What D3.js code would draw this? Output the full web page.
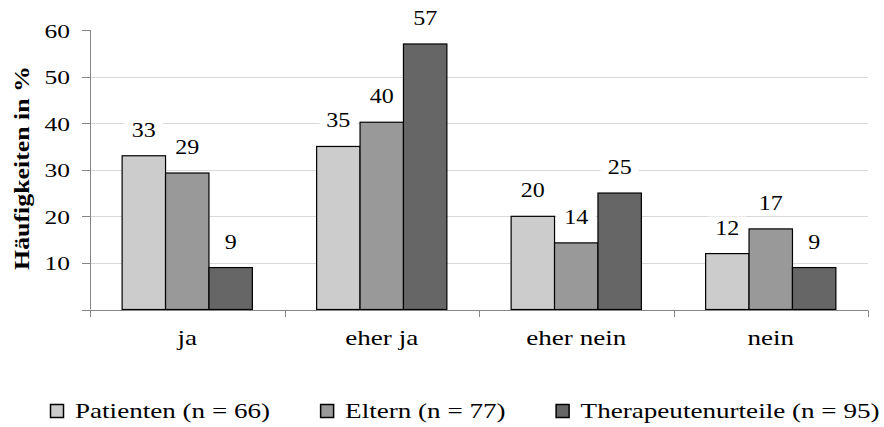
<!DOCTYPE html>
<html>
<head>
<meta charset="utf-8">
<script src="https://cdn.jsdelivr.net/npm/d3@7"></script>
<style>
  html, body { margin: 0; padding: 0; background: #fff; }
  svg { display: block; }
</style>
</head>
<body>
<svg id="chart" width="884" height="427"></svg>
<script>
// ---- data ----
const categories = ["ja", "eher ja", "eher nein", "nein"];
const seriesNames = ["Patienten (n = 66)", "Eltern (n = 77)", "Therapeutenurteile (n = 95)"];
const patienten = [33, 35, 20, 12];
const eltern = [29.3, 40.2, 14.3, 17.3];
const therapeuten = [9, 57, 25, 9];
const yTicks = [0, 10, 20, 30, 40, 50, 60];
const gridTicks = [10, 20, 30, 40, 50];
const yTitle = "Häufigkeiten in %";

// ---- styles ----
const colors = ["#cccccc", "#999999", "#666666"];
const axisColor = "#868686";
const gridColor = "#d9d9d9";

const seriesValues = [patienten, eltern, therapeuten];
const svg = d3.select("#chart");

// pick an installed serif font, else Liberation Sans
function widthIn(fam, str, size, weight) {
  const t = svg.append("text").style("font-family", fam).style("font-size", size + "px")
    .style("font-weight", weight || "normal").text(str);
  const w = t.node().getComputedTextLength();
  t.remove();
  return w;
}
const probe = "mmmmmmwwwwwiiiiilllQQ 0123456789";
const baseMono = widthIn("monospace", probe, 40);
const baseSans = widthIn("sans-serif", probe, 40);
const candidates = ["Liberation Serif", "Tinos", "Times New Roman", "Noto Serif", "DejaVu Serif", "FreeSerif"];
let FONT = '"Liberation Sans", Arial, sans-serif';
for (const c of candidates) {
  const w1 = widthIn(`"${c}", monospace`, probe, 40);
  const w2 = widthIn(`"${c}", sans-serif`, probe, 40);
  if (Math.abs(w1 - baseMono) > 0.5 && Math.abs(w2 - baseSans) > 0.5) { FONT = `"${c}", serif`; break; }
}

function measure(str, size, weight) { return widthIn(FONT, str, size, weight); }
const LEG_SIZE = 22, CAT_SIZE = 22, TICK_SIZE = 19, LAB_SIZE = 22, TITLE_SIZE = 21;
const LEG_SQ_GAP = 25, LEG_ITEM_GAP = 50;
const SX_LEG = (880 - 50 - 3 * LEG_SQ_GAP - 2 * LEG_ITEM_GAP) / d3.sum(seriesNames, s => measure(s, LEG_SIZE));
const SX_TEXT = 73 / measure("eher ja", CAT_SIZE);
const SX_TICK = 25.5 / measure("60", TICK_SIZE);
const SX_LAB = 24 / measure("57", LAB_SIZE);
const SX_TITLE = 204 / measure(yTitle, TITLE_SIZE, "bold");

const x0 = d3.scaleBand().domain(categories).range([90, 868]).paddingInner(0).paddingOuter(0);
const x1 = d3.scaleBand().domain(d3.range(seriesNames.length)).range([0, x0.bandwidth()]).paddingInner(0).paddingOuter(0.74);
const y = d3.scaleLinear().domain([0, 60]).range([309.5, 30]);

function sText(parent, x, yy, str, size, sx, anchor, weight) {
  return parent.append("text")
    .attr("transform", `translate(${x},${yy}) scale(${sx},1)`)
    .attr("text-anchor", anchor)
    .style("font-family", FONT)
    .style("font-size", size + "px")
    .style("font-weight", weight || "normal")
    .attr("fill", "#000")
    .text(str);
}

// gridlines
svg.append("g").selectAll("line").data(gridTicks).join("line")
  .attr("x1", x0.range()[0]).attr("x2", x0.range()[1])
  .attr("y1", d => Math.round(y(d)) + 0.5).attr("y2", d => Math.round(y(d)) + 0.5)
  .attr("stroke", gridColor).attr("stroke-width", 1);

// bars
const groups = svg.append("g").selectAll("g").data(categories).join("g")
  .attr("transform", c => `translate(${x0(c)},0)`);
groups.selectAll("rect").data((c, i) => seriesValues.map((s, k) => ({k, v: s[i]}))).join("rect")
  .attr("x", d => x1(d.k)).attr("width", x1.bandwidth())
  .attr("y", d => y(d.v)).attr("height", d => y(0) - y(d.v))
  .attr("fill", d => colors[d.k]).attr("stroke", "#000").attr("stroke-width", 1.2);

// axes
const axisG = svg.append("g");
axisG.append("line").attr("x1", 90.5).attr("x2", 90.5).attr("y1", y(60)).attr("y2", y(0))
  .attr("stroke", axisColor);
axisG.selectAll(".yt").data(yTicks).join("line").attr("class", "yt")
  .attr("x1", 82).attr("x2", 90.5).attr("y1", d => Math.round(y(d)) + 0.5).attr("y2", d => Math.round(y(d)) + 0.5)
  .attr("stroke", axisColor);
axisG.append("line").attr("x1", 82).attr("x2", x0.range()[1]).attr("y1", Math.round(y(0)) + 0.5).attr("y2", Math.round(y(0)) + 0.5)
  .attr("stroke", axisColor);
const xTickPos = categories.map(c => x0(c)).concat([x0.range()[1]]);
axisG.selectAll(".xt").data(xTickPos).join("line").attr("class", "xt")
  .attr("x1", d => Math.round(d) + 0.5).attr("x2", d => Math.round(d) + 0.5)
  .attr("y1", Math.round(y(0)) + 0.5).attr("y2", y(0) + 7.5)
  .attr("stroke", axisColor);

// y tick labels (skip 0)
yTicks.filter(d => d > 0).forEach(d => sText(svg, 70, y(d) + 7.5, String(d), TICK_SIZE, SX_TICK, "end"));

// category labels
categories.forEach(c => sText(svg, x0(c) + x0.bandwidth() / 2, 344.5, c, CAT_SIZE, SX_TEXT, "middle"));

// value labels with white background
categories.forEach((c, i) => {
  seriesValues.forEach((s, k) => {
    const v = s[i];
    const cx = x0(c) + x1(k) + x1.bandwidth() / 2;
    const by = y(v) - 19;
    const g = svg.append("g");
    const t = sText(g, cx, by, String(Math.round(v)), LAB_SIZE, SX_LAB, "middle");
    const bb = t.node().getBBox();
    g.insert("rect", "text")
      .attr("x", cx - bb.width * SX_LAB / 2 - 7).attr("width", bb.width * SX_LAB + 14)
      .attr("y", by + bb.y + 2).attr("height", bb.height - 4)
      .attr("fill", "#fff");
  });
});

// y-axis title
svg.append("text")
  .attr("transform", `translate(29,168) rotate(-90) scale(${SX_TITLE},1)`)
  .attr("text-anchor", "middle")
  .style("font-family", FONT).style("font-size", TITLE_SIZE + "px").style("font-weight", "bold")
  .attr("fill", "#000")
  .text(yTitle);

// legend
let lx = 50;
seriesNames.forEach((name, k) => {
  svg.append("rect").attr("x", lx + 0.5).attr("y", 404.5).attr("width", 13).attr("height", 13)
    .attr("fill", colors[k]).attr("stroke", "#000").attr("stroke-width", 1.5);
  const t = sText(svg, lx + LEG_SQ_GAP, 418.3, name, LEG_SIZE, SX_LEG, "start");
  const w = t.node().getComputedTextLength() * SX_LEG;
  lx = lx + LEG_SQ_GAP + w + LEG_ITEM_GAP;
});
</script>
</body>
</html>
